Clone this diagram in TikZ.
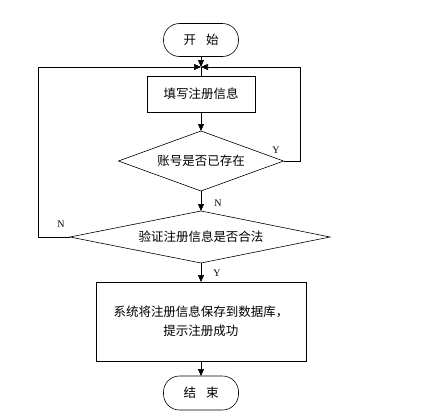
\documentclass[tikz,border=0pt]{standalone}
\usepackage{fontspec}
\setmainfont{Liberation Serif}
\newfontfamily\cjk{Noto Sans CJK SC}
\usetikzlibrary{arrows.meta}
\tikzset{
  flow/.style={semithick, inner sep=0pt, outer sep=0pt, font=\cjk\fontsize{12.5}{19}\selectfont},
  term/.style={flow, draw, rectangle, rounded corners=16pt, minimum width=75pt, minimum height=33pt},
  proc/.style={flow, draw, rectangle},
  test/.style={flow},
  arr/.style={semithick, -{Triangle[length=7pt,width=6pt]}},
  yn/.style={font=\fontsize{10}{12}\selectfont}
}
\begin{document}
\begin{tikzpicture}[x=1pt, y=1pt]
    \useasboundingbox (0, 0) rectangle (429, -418);
        \node[term] (start) at (201, -40) {开\hspace{0.8em}始};
        \coordinate (merge) at (201, -67);
        \node[proc, minimum width=108pt, minimum height=36pt] (fill) at (201, -94) {填写注册信息};
        \node[test] (exist) at (201, -161) {账号是否已存在};
        \draw[semithick] ([yshift=30pt]exist.center) coordinate (exist-n)
            -- ([xshift=82.5pt]exist.center) coordinate (exist-e)
            -- ([yshift=-30pt]exist.center) coordinate (exist-s)
            -- ([xshift=-82.5pt]exist.center) coordinate (exist-w) -- cycle;
        \node[test] (valid) at (201, -237) {验证注册信息是否合法};
        \draw[semithick] ([yshift=26pt]valid.center) coordinate (valid-n)
            -- ([xshift=129pt]valid.center) coordinate (valid-e)
            -- ([yshift=-26pt]valid.center) coordinate (valid-s)
            -- ([xshift=-131pt]valid.center) coordinate (valid-w) -- cycle;
        \node[proc, minimum width=210pt, minimum height=79pt, align=center] (save) at (201, -321.5) {系统将注册信息保存到数据库，\\提示注册成功};
        \node[term, minimum height=34pt] (stop) at (201, -393) {结\hspace{0.8em}束};
        \coordinate (right) at (300, -67);
        \coordinate (left) at (38, -67);
        %
        \draw[arr] (start) -- (merge);
        \draw[semithick] (merge) -- (fill);
        \draw[arr] (fill) -- (exist-n);
        \draw[arr] (exist-e) -| (right) -- (merge);
        \node[yn] at (276, -150) {Y};
        \draw[arr] (exist-s) -- (valid-n);
        \node[yn] at (218, -203) {N};
        \draw[arr] (valid-w) -| (left) -- (merge);
        \node[yn] at (61, -224) {N};
        \draw[arr] (valid-s) -- (save);
        \node[yn] at (217, -273) {Y};
        \draw[arr] (save) -- (stop);
    \end{tikzpicture}
\end{document}
